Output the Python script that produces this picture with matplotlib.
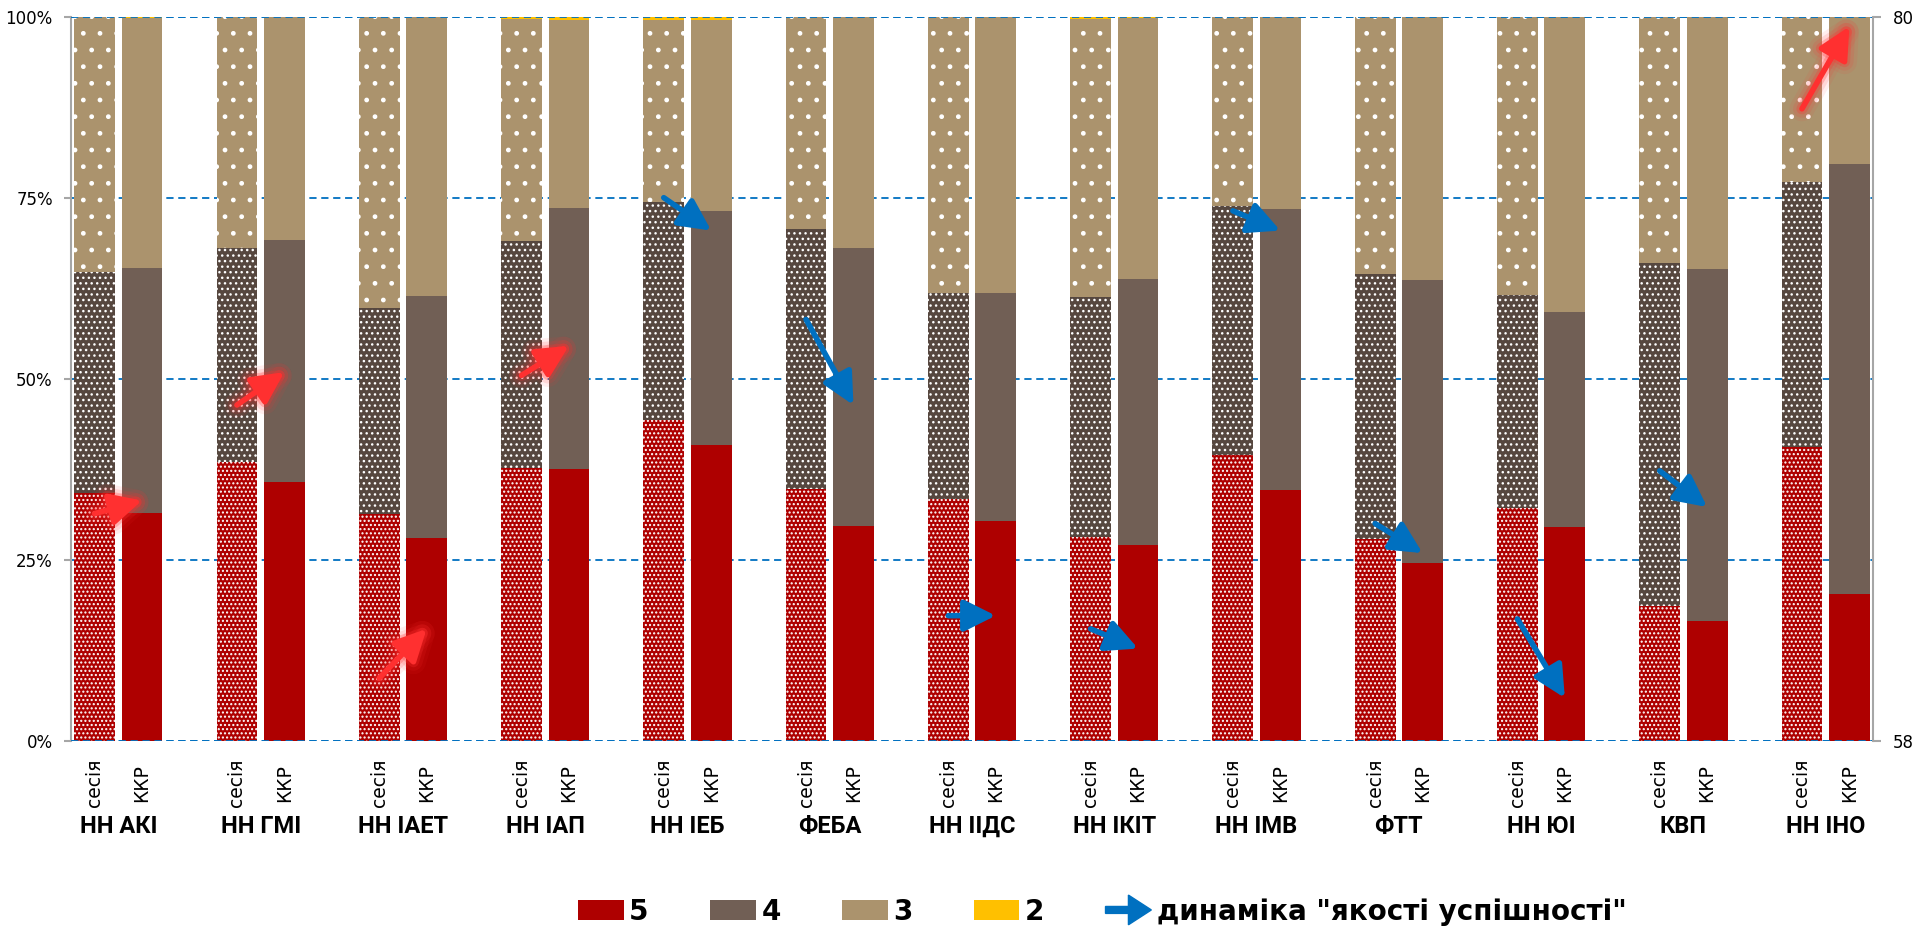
import matplotlib
matplotlib.use('Agg')
import matplotlib.pyplot as plt
import matplotlib.patches as mpatches
import matplotlib.patheffects as pe
from matplotlib.font_manager import FontProperties
from matplotlib.legend_handler import HandlerPatch
from matplotlib.ticker import PercentFormatter
import numpy as np

groups = ['НН АКІ', 'НН ГМІ', 'НН ІАЕТ', 'НН ІАП', 'НН ІЕБ', 'ФЕБА', 'НН ІІДС',
          'НН ІКІТ', 'НН ІМВ', 'ФТТ', 'НН ЮІ', 'КВП', 'НН ІНО']
bar_labels = ['сесія', 'ККР']

# share of marks, % -- session
s5 = [34.2, 38.5, 31.3, 37.7, 44.3, 34.7, 33.4, 28.1, 39.5, 27.8, 32.1, 18.6, 40.5]
s4 = [30.6, 29.6, 28.4, 31.3, 30.1, 36.0, 28.4, 33.2, 34.4, 36.6, 29.4, 47.4, 36.6]
s3 = [35.2, 31.9, 40.3, 30.7, 25.1, 29.3, 38.2, 38.4, 26.1, 35.6, 38.5, 34.0, 22.9]
s2 = [0.0, 0.0, 0.0, 0.3, 0.5, 0.0, 0.0, 0.3, 0.0, 0.0, 0.0, 0.0, 0.0]
# share of marks, % -- ККР
k5 = [31.5, 35.7, 28.0, 37.5, 40.8, 29.7, 30.4, 27.0, 34.6, 24.6, 29.5, 16.6, 20.3]
k4 = [33.8, 33.5, 33.4, 36.1, 32.4, 38.4, 31.4, 36.7, 38.9, 39.0, 29.7, 48.5, 59.3]
k3 = [34.5, 30.8, 38.6, 26.0, 26.3, 31.9, 38.2, 36.1, 26.5, 36.4, 40.8, 34.9, 20.4]
k2 = [0.2, 0.0, 0.0, 0.4, 0.5, 0.0, 0.0, 0.2, 0.0, 0.0, 0.0, 0.0, 0.0]

# "якість успішності" (right axis), session -> ККР
q_sess = [64.9, 68.2, 59.9, 69.1, 74.5, 70.8, 61.8, 61.4, 74.1, 64.6, 61.7, 66.2, 77.2]
q_kkr = [65.3, 69.2, 61.4, 70.0, 73.5, 68.2, 61.8, 60.8, 73.5, 63.7, 59.3, 65.1, 79.7]

C5 = '#AE0000'
C4 = '#715F55'
C4_DOT = '#56473F'
C3 = '#AB936D'
C2 = '#FFC000'
BLUE = '#0070C0'
RED = '#FF3030'
GREY = '#A6A6A6'

plt.rcParams['hatch.linewidth'] = 1.0

fig = plt.figure(figsize=(19.17, 9.26), dpi=100)
ax = fig.add_axes([0.037, 0.2001, 0.9401, 0.7819])

n = len(groups)
x_s = np.arange(n) * 3
x_k = x_s + 1
w = 0.86


def stack(x, cols, colors, hatches):
    bottom = np.zeros(n)
    for vals, c, h in zip(cols, colors, hatches):
        ax.bar(x, vals, w, bottom=bottom, color=c, hatch=h,
               edgecolor='white', linewidth=0, zorder=2)
        bottom += np.array(vals)


stack(x_s, [s5, s4, s3, s2], [C5, C4_DOT, C3, C2], ['....', '...', '.', None])
stack(x_k, [k5, k4, k3, k2], [C5, C4, C3, C2], [None] * 4)

dash = (0, (4, 2.6))
ax.set_ylim(0, 100)
ax.set_xlim(-0.5, 3 * n - 1.5)
ax.set_yticks([0, 25, 50, 75, 100])
ax.yaxis.set_major_formatter(PercentFormatter(decimals=0))
ax.yaxis.grid(True, color=BLUE, linestyle=dash, linewidth=1.3)
ax.set_axisbelow(True)
for yv in (0, 100):
    ax.axhline(yv, color=BLUE, linestyle=dash, linewidth=1.3, zorder=3)
ax.set_xticks([])
for s in ('top', 'bottom', 'right'):
    ax.spines[s].set_visible(False)
ax.spines['left'].set_color(GREY)
ax.spines['left'].set_linewidth(1.5)
ax.tick_params(axis='y', direction='out', length=5, width=1.5, color=GREY,
               labelsize=12, pad=8)

for i in range(n):
    ax.text(x_s[i], -0.0585, bar_labels[0], transform=ax.get_xaxis_transform(),
            rotation=90, ha='center', va='center', fontsize=13.5)
    ax.text(x_k[i], -0.0585, bar_labels[1], transform=ax.get_xaxis_transform(),
            rotation=90, ha='center', va='center', fontsize=13.5)
    ax.text((x_s[i] + x_k[i]) / 2, -0.118, groups[i], transform=ax.get_xaxis_transform(),
            ha='center', va='center', family=['Roboto', 'DejaVu Sans'],
            weight='bold', fontsize=17)

ax2 = ax.twinx()
ax2.set_ylim(58, 80)
ax2.set_yticks([58, 80])
for s in ('top', 'bottom', 'left'):
    ax2.spines[s].set_visible(False)
ax2.spines['right'].set_color(GREY)
ax2.spines['right'].set_linewidth(1.5)
ax2.tick_params(axis='y', direction='out', length=6, width=1.5, color=GREY,
                labelsize=12, pad=8)

glow = [pe.Stroke(linewidth=18, foreground=RED, alpha=0.08),
        pe.Stroke(linewidth=13, foreground=RED, alpha=0.12),
        pe.Stroke(linewidth=8, foreground=RED, alpha=0.25),
        pe.Normal()]
for i in range(n):
    up = q_kkr[i] > q_sess[i]
    ann = ax2.annotate('', xy=(x_k[i], q_kkr[i]), xytext=(x_s[i], q_sess[i]),
                       arrowprops=dict(arrowstyle='-|>', mutation_scale=48, lw=4,
                                       color=RED if up else BLUE,
                                       shrinkA=0, shrinkB=0))
    if up:
        ann.arrow_patch.set_path_effects(glow)


def legend_arrow(legend, orig_handle, xdescent, ydescent, width, height, fontsize):
    return mpatches.FancyArrow(-xdescent, height / 2 - ydescent, width, 0,
                               width=height * 0.35, head_width=height * 1.5,
                               head_length=width * 0.5, length_includes_head=True)


arrow_handle = mpatches.FancyArrow(0, 0, 1, 0, color=BLUE)
handles = [mpatches.Patch(facecolor=c, edgecolor='none') for c in (C5, C4, C3, C2)]
handles.append(arrow_handle)
fig.legend(handles, ['5', '4', '3', '2', 'динаміка "якості успішності"'],
           loc='center', bbox_to_anchor=(0.575, 0.0155), ncol=5, frameon=False,
           prop=FontProperties(family='DejaVu Sans', weight='bold', size=20),
           handlelength=1.65, handleheight=0.72, handletextpad=0.2,
           columnspacing=2.2, borderpad=0.2,
           handler_map={arrow_handle: HandlerPatch(patch_func=legend_arrow)})

fig.savefig('out.png', dpi=100)
